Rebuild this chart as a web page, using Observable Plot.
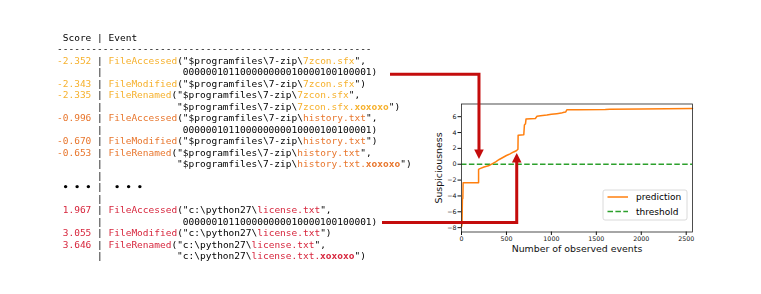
<!DOCTYPE html>
<html><head><meta charset="utf-8">
<script src="https://cdn.jsdelivr.net/npm/d3@7"></script>
<script src="https://cdn.jsdelivr.net/npm/@observablehq/plot@0.6"></script>
<style>body{margin:0;background:#fff}</style>
</head><body><div id="chart"></div>
<script>
// ---- data ----
const scores = [-2.352, -2.343, -2.335, -0.996, -0.670, -0.653, 1.967, 3.055, 3.646];
const operations = ["FileAccessed", "FileModified", "FileRenamed"];
const folders = ["$programfiles\\7-zip\\", "$programfiles\\7-zip\\", "c:\\python27\\"];
const fileNames = ["7zcon.sfx", "history.txt", "license.txt"];
const groupColors = ["#f6b12d", "#e8762d", "#d7263d"];
const accessFlags = "000000101100000000010000100100001";
const renameSuffix = "xoxoxo";

const eventsX = [0, 6, 10, 15, 18, 190, 190, 205, 250, 300, 340, 380, 420, 460, 500, 540, 580, 610, 628, 630, 693, 700, 712, 718, 822, 840, 880, 950, 1000, 1060, 1110, 1140, 1160, 1172, 1300, 1600, 1650, 2000, 2570];
const predY   = [-7.85, -7.6, -4.4, -4.3, -2.35, -2.35, -0.65, -0.55, -0.35, -0.2, 0.05, 0.3, 0.6, 0.85, 1.1, 1.3, 1.55, 1.7, 1.9, 3.65, 3.72, 4.95, 5.1, 5.72, 5.78, 6.05, 6.12, 6.2, 6.3, 6.38, 6.45, 6.55, 6.6, 6.87, 6.88, 6.9, 6.94, 6.97, 7.02];
const threshold = 0;
const arrowTargetsX = [200, 620];
const arrowTargetsY = [0.6, 1.36];
const xTicks = [0, 500, 1000, 1500, 2000, 2500];
const yTicks = [-8, -6, -4, -2, 0, 2, 4, 6];

const curve = eventsX.map((x, i) => ({x, y: predY[i]}));

const chart = Plot.plot({
  width: 761, height: 294,
  marginLeft: 461, marginRight: 69, marginTop: 103.5, marginBottom: 62.5,
  style: {fontFamily: "DejaVu Sans", background: "#fff", color: "#111", overflow: "visible"},
  x: {domain: [0, 2570]},
  y: {domain: [-8.55, 7.6]},
  marks: [
    Plot.ruleY([threshold], {stroke: "#2ca02c", strokeWidth: 1.5, strokeDasharray: "5.5,2.4"}),
    Plot.line(curve, {x: "x", y: "y", stroke: "#ff7f0e", strokeWidth: 1.5}),
    Plot.frame({stroke: "#222", strokeWidth: 0.8}),
    Plot.axisX({ticks: xTicks, tickFormat: d => String(d), tickSize: 3.5, tickPadding: 1.5, fontSize: 6.3, label: null}),
    Plot.axisY({ticks: yTicks, tickSize: 3.5, tickPadding: 1.5, fontSize: 6.3, label: null}),
    Plot.text(["Number of observed events"], {frameAnchor: "bottom", lineAnchor: "middle", textAnchor: "middle", dy: 17, fontSize: 9.4, text: d => d}),
    Plot.text(["Suspiciousness"], {frameAnchor: "left", lineAnchor: "middle", textAnchor: "middle", dx: -23, rotate: -90, fontSize: 9.4, text: d => d})
  ]
});
document.getElementById("chart").appendChild(chart);

// ---- text block ----
const rows = [];
const B = "#000";
rows.push([{t: " Score "}, {t: "|"}, {t: " Event"}]);
rows.push([{t: "-".repeat(55)}]);
const pad = n => " ".repeat(n);
function group(g) {
  const c = groupColors[g];
  const sc = j => scores[g * 3 + j].toFixed(3).padStart(6, " ");
  rows.push([{t: sc(0), c}, {t: " | "}, {t: operations[0], c}, {t: '("' + folders[g]}, {t: fileNames[g], c}, {t: '",'}]);
  rows.push([{t: pad(7) + "| " + pad(13) + accessFlags + ")"}]);
  rows.push([{t: sc(1), c}, {t: " | "}, {t: operations[1], c}, {t: '("' + folders[g]}, {t: fileNames[g], c}, {t: '")'}]);
  rows.push([{t: sc(2), c}, {t: " | "}, {t: operations[2], c}, {t: '("' + folders[g]}, {t: fileNames[g], c}, {t: '",'}]);
  rows.push([{t: pad(7) + "| " + pad(12) + '"' + folders[g]}, {t: fileNames[g] + ".", c}, {t: renameSuffix, c, b: true}, {t: '")'}]);
}
group(0); group(1);
rows.push([{t: pad(7) + "|"}]);
rows.push([{t: " \u2022 \u2022 \u2022 ", b: true}, {t: "|"}, {t: "  \u2022 \u2022 \u2022", b: true}]);
rows.push([{t: pad(7) + "|"}]);
group(2);

const svg = d3.select(chart);
const defs = svg.append("defs");
const f = defs.append("filter").attr("id", "gray-aa").attr("x", 0).attr("y", 0).attr("width", 1).attr("height", 1);
f.append("feOffset").attr("dx", 0).attr("dy", 0);

const mono = svg.append("g").attr("font-family", "DejaVu Sans Mono").attr("font-size", 9.5).attr("text-anchor", "start")
  .attr("filter", "url(#gray-aa)").style("white-space", "pre");
rows.forEach((segs, i) => {
  const t = mono.append("text").attr("x", 57).attr("y", 37.3 + i * 11.5 + 3.4).attr("xml:space", "preserve");
  segs.forEach(s => t.append("tspan").text(s.t).attr("fill", s.c || B).attr("font-weight", s.b ? "bold" : null));
});

// ---- arrows ----
const xs = chart.scale("x"), ys = chart.scale("y");
const red = "#c40c0c";
const ar = svg.append("g");
{
  const x1 = xs.apply(arrowTargetsX[0]), tip = ys.apply(arrowTargetsY[0]);
  ar.append("path").attr("d", `M390,74.3H${x1}V${tip - 9}`).attr("fill", "none").attr("stroke", red).attr("stroke-width", 3);
  ar.append("path").attr("d", `M${x1 - 4.8},${tip - 9.5}L${x1 + 4.8},${tip - 9.5}L${x1},${tip}Z`).attr("fill", red);
}
{
  const x2 = xs.apply(arrowTargetsX[1]), tip = ys.apply(arrowTargetsY[1]);
  ar.append("path").attr("d", `M382,222.5H${x2}V${tip + 9}`).attr("fill", "none").attr("stroke", red).attr("stroke-width", 3);
  ar.append("path").attr("d", `M${x2 - 4.8},${tip + 9.5}L${x2 + 4.8},${tip + 9.5}L${x2},${tip}Z`).attr("fill", red);
}

// ---- legend ----
const lg = svg.append("g").attr("font-family", "DejaVu Sans").attr("font-size", 9).attr("text-anchor", "start");
lg.append("rect").attr("x", 603).attr("y", 190).attr("width", 84).attr("height", 30).attr("rx", 2).attr("fill", "#fff").attr("stroke", "#d0d0d0").attr("stroke-width", 0.8);
lg.append("line").attr("x1", 607.5).attr("x2", 628).attr("y1", 197).attr("y2", 197).attr("stroke", "#ff7f0e").attr("stroke-width", 1.5);
lg.append("text").attr("x", 636).attr("y", 200.2).attr("fill", B).text("prediction");
lg.append("line").attr("x1", 607.5).attr("x2", 628).attr("y1", 211.5).attr("y2", 211.5).attr("stroke", "#2ca02c").attr("stroke-width", 1.5).attr("stroke-dasharray", "5.5,2.4");
lg.append("text").attr("x", 636).attr("y", 214.7).attr("fill", B).text("threshold");
</script>
</body></html>
